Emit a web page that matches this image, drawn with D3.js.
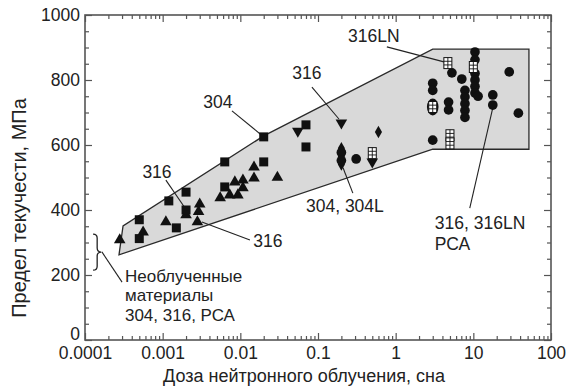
<!DOCTYPE html>
<html>
<head>
<meta charset="utf-8">
<script src="https://cdn.jsdelivr.net/npm/d3@7/dist/d3.min.js"></script>
<style>
  body { margin: 0; background: #fff; }
  svg { display: block; }
  text { font-family: "Liberation Sans", Arial, Helvetica, sans-serif; fill: #222; }
</style>
</head>
<body>
<svg id="chart" width="568" height="390"></svg>
<script>
// ---- axis ticks ----
const xTickValues = [1e-4, 1e-3, 1e-2, 0.1, 1, 10, 100];
const xTickLabels = ["0.0001", "0.001", "0.01", "0.1", "1", "10", "100"];
const yTickValues = [0, 200, 400, 600, 800, 1000];
const yTickLabels = ["0", "200", "400", "600", "800", "1000"];

// ---- scatter band (dose, yield strength) ----
const bandDose = [2.74e-4, 3.09e-4, 0.02, 3, 52, 52, 3];
const bandStress = [262, 351, 628, 895, 895, 587, 587];

// ---- measurements: [dose (dpa), yield strength (MPa)] ----
const steel304 = [
  [0.0005, 370], [0.0005, 312], [0.0012, 428], [0.0015, 345], [0.002, 455],
  [0.002, 400], [0.0063, 471], [0.0063, 548], [0.02, 548], [0.02, 625],
  [0.07, 662], [0.07, 594]
];
const steel316 = [
  [0.00028, 308], [0.00056, 332], [0.0011, 363], [0.002, 385], [0.0028, 363],
  [0.0029, 395], [0.003, 418], [0.0055, 437], [0.0073, 446], [0.0085, 486],
  [0.0093, 446], [0.0108, 492], [0.0108, 468], [0.015, 532], [0.015, 498],
  [0.03, 500]
];
const steel316Down = [[0.055, 643], [0.2, 668], [0.5, 548]];
const steel304L = [[0.2, 590], [0.2, 565], [0.2, 540], [0.6, 640]];
const circles316PCA = [
  [0.2, 577], [0.2, 552], [0.31, 557], [3, 615], [3, 790], [3, 768],
  [4.8, 732], [4.8, 708], [5.3, 822], [7.1, 803],
  [7.8, 768], [7.8, 748], [7.8, 727], [7.8, 706], [7.8, 685],
  [10.5, 886], [10.5, 862], [10.5, 820], [10.5, 800], [10.5, 780], [10.5, 760],
  [11.5, 750], [17.8, 754], [17.8, 723], [29, 825], [38, 698]
];
const grid316LN = [[4.7, 852], [10, 840], [5, 630], [5, 605], [0.5, 575]];
const gridCircle316LN = [[3, 717]];

// ---- annotations: text block centre and leader line, in data units ----
const notes = [
  { lines: ["304"], at: [0.00515, 732], anchor: "middle", leader: [[0.0078, 705], [0.018, 634]] },
  { lines: ["316"], at: [0.072, 822], anchor: "middle", leader: [[0.0835, 778], [0.186, 680]] },
  { lines: ["316"], at: [0.000845, 517], anchor: "middle", leader: [[0.0011, 492], [0.00194, 406]] },
  { lines: ["316"], at: [0.0226, 305], anchor: "middle", leader: [[0.0032, 363], [0.0133, 308]] },
  { lines: ["304, 304L"], at: [0.222, 412], anchor: "middle", leader: [[0.21, 530], [0.281, 452]] },
  { lines: ["316LN"], at: [0.524, 935], anchor: "middle", leader: [[0.77, 902], [4.3, 855]] },
  { lines: ["316, 316LN", "РСА"], at: [3.19, 327], anchor: "start", lineGap: 21, leader: [[9.0, 406], [17.8, 714]] },
  { lines: ["Необлученные", "материалы", "304, 316, РСА"], at: [3.27e-4, 138], anchor: "start", lineGap: 19.6, fontSize: 17, leader: [[1.65e-4, 271], [3.0e-4, 178]] }
];
const braceDose = [1.27e-4, 1.62e-4];
const braceStress = [326, 215];

// ---- layout ----
const svg = d3.select("#chart");
const x = d3.scaleLog().domain([1e-4, 100]).range([85, 551]);
const y = d3.scaleLinear().domain([0, 1000]).range([340, 15]);
const frameColor = "#555";
const inkColor = "#111";

// shaded band
svg.append("path")
  .attr("d", d3.line()(bandDose.map((d, i) => [x(d), y(bandStress[i])])) + "Z")
  .attr("fill", "#d9d9d9")
  .attr("stroke", "#2a2a2a")
  .attr("stroke-width", 1.3)
  .attr("stroke-linejoin", "miter");

// minor ticks
const xMinor = [];
for (let e = -4; e < 2; e++) for (let m = 2; m <= 9; m++) xMinor.push(m * Math.pow(10, e));
const yMinor = d3.range(0, 1001, 50).filter(v => v % 200 !== 0);

function styleAxis(g) {
  g.select(".domain").remove();
  g.selectAll(".tick line").attr("stroke", frameColor).attr("stroke-width", 1.2);
  g.selectAll(".tick text").style("font-size", "17.5px").attr("fill", "#222");
}

svg.append("g").attr("transform", "translate(0,340)")
  .call(d3.axisBottom(x).tickValues(xTickValues).tickSize(-7).tickPadding(7)
    .tickFormat((d, i) => xTickLabels[i])).call(styleAxis);
svg.append("g").attr("transform", "translate(0,340)")
  .call(d3.axisBottom(x).tickValues(xMinor).tickSize(-4).tickFormat("")).call(styleAxis);
svg.append("g").attr("transform", "translate(0,15)")
  .call(d3.axisTop(x).tickValues(xTickValues).tickSize(-7).tickFormat("")).call(styleAxis);
svg.append("g").attr("transform", "translate(0,15)")
  .call(d3.axisTop(x).tickValues(xMinor).tickSize(-4).tickFormat("")).call(styleAxis);

const yAxisG = svg.append("g").attr("transform", "translate(85,0)")
  .call(d3.axisLeft(y).tickValues(yTickValues).tickSize(-7).tickPadding(5)
    .tickFormat((d, i) => yTickLabels[i])).call(styleAxis);
// lift the bottom "0" so it clears the first dose label
yAxisG.selectAll(".tick text").filter(d => d === 0).attr("dy", "-0.05em");
svg.append("g").attr("transform", "translate(85,0)")
  .call(d3.axisLeft(y).tickValues(yMinor).tickSize(-4).tickFormat("")).call(styleAxis);
svg.append("g").attr("transform", "translate(551,0)")
  .call(d3.axisRight(y).tickValues(yTickValues).tickSize(-7).tickFormat("")).call(styleAxis);
svg.append("g").attr("transform", "translate(551,0)")
  .call(d3.axisRight(y).tickValues(yMinor).tickSize(-4).tickFormat("")).call(styleAxis);

// frame
svg.append("rect")
  .attr("x", x(1e-4)).attr("y", y(1000))
  .attr("width", x(100) - x(1e-4)).attr("height", y(0) - y(1000))
  .attr("fill", "none").attr("stroke", frameColor).attr("stroke-width", 1.6);

// axis titles
svg.append("text").attr("x", 304).attr("y", 382).attr("text-anchor", "middle")
  .style("font-size", "18px").text("Доза нейтронного облучения, сна");
svg.append("text").attr("transform", "translate(26,208) rotate(-90)").attr("text-anchor", "middle")
  .style("font-size", "20px").text("Предел текучести, МПа");

// leader lines (drawn under markers)
const leaders = svg.append("g").attr("stroke", "#222").attr("stroke-width", 1.1).attr("fill", "none");
notes.forEach(n => {
  leaders.append("line")
    .attr("x1", x(n.leader[0][0])).attr("y1", y(n.leader[0][1]))
    .attr("x2", x(n.leader[1][0])).attr("y2", y(n.leader[1][1]));
});

// brace for unirradiated materials
{
  const bx0 = x(braceDose[0]), bx1 = x(braceDose[1]);
  const by0 = y(braceStress[0]), by1 = y(braceStress[1]);
  const mid = (by0 + by1) / 2, xm = (bx0 + bx1) / 2, r = 4;
  const p = `M${bx0},${by0} Q${xm},${by0} ${xm},${by0 + r} L${xm},${mid - r} Q${xm},${mid} ${bx1},${mid}` +
            ` Q${xm},${mid} ${xm},${mid + r} L${xm},${by1 - r} Q${xm},${by1} ${bx0},${by1}`;
  svg.append("path").attr("d", p).attr("fill", "none").attr("stroke", "#222").attr("stroke-width", 1.3);
}

// markers
const marks = svg.append("g");
function drawSymbol(data, type, size, rotate) {
  marks.selectAll(null).data(data).enter().append("path")
    .attr("d", d3.symbol().type(type).size(size)())
    .attr("transform", d => `translate(${x(d[0])},${y(d[1])})` + (rotate ? ` rotate(${rotate})` : ""))
    .attr("fill", inkColor);
}
drawSymbol(steel316, d3.symbolTriangle, 58, 0);
drawSymbol(steel316Down, d3.symbolTriangle, 58, 180);
drawSymbol(steel304, d3.symbolSquare, 81, 0);
drawSymbol(steel304L, d3.symbolDiamond, 44, 0);
drawSymbol(circles316PCA, d3.symbolCircle, 74, 0);

// grid boxes (316LN)
function gridBox(g, cx, cy) {
  const w = 8, h = 11;
  g.append("rect").attr("x", cx - w / 2).attr("y", cy - h / 2).attr("width", w).attr("height", h)
    .attr("fill", "#fff").attr("stroke", inkColor).attr("stroke-width", 1);
  g.append("line").attr("x1", cx).attr("x2", cx).attr("y1", cy - h / 2).attr("y2", cy + h / 2)
    .attr("stroke", inkColor).attr("stroke-width", 0.9);
  [1 / 3, 2 / 3].forEach(f => g.append("line")
    .attr("x1", cx - w / 2).attr("x2", cx + w / 2).attr("y1", cy - h / 2 + h * f).attr("y2", cy - h / 2 + h * f)
    .attr("stroke", inkColor).attr("stroke-width", 0.9));
}
gridCircle316LN.forEach(d => {
  marks.append("ellipse").attr("cx", x(d[0])).attr("cy", y(d[1])).attr("rx", 5.8).attr("ry", 8.5).attr("fill", inkColor);
  gridBox(marks, x(d[0]), y(d[1]));
});
grid316LN.forEach(d => gridBox(marks, x(d[0]), y(d[1])));

// annotation texts
notes.forEach(n => {
  const fs = n.fontSize || 17.5;
  const t = svg.append("text").attr("text-anchor", n.anchor).style("font-size", fs + "px")
    .attr("x", x(n.at[0])).attr("y", y(n.at[1]));
  const lh = n.lineGap || 19;
  const off = -(n.lines.length - 1) * lh / 2;
  n.lines.forEach((s, i) => {
    t.append("tspan").attr("x", x(n.at[0])).attr("y", y(n.at[1]) + off + i * lh).attr("dy", "0.35em").text(s);
  });
});
</script>
</body>
</html>
